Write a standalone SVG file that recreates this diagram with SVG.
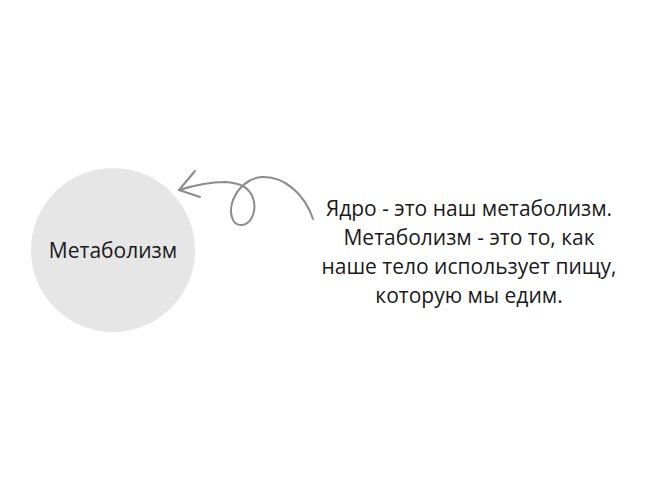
<svg xmlns="http://www.w3.org/2000/svg" width="657" height="500" viewBox="0 0 657 500">
<style>
.t{font-family:"Open Sans","Noto Sans","Liberation Sans",sans-serif;fill:#1a1a1a;text-anchor:middle;font-size:21px}
.c{fill:none;stroke:#8c8c8c;stroke-width:2;stroke-linecap:round;stroke-linejoin:round}
</style>
<rect width="657" height="500" fill="#ffffff"/>
<g id="node-metabolism">
<circle cx="113" cy="250" r="82" fill="#e6e6e6"/>
<text class="t" x="113" y="258">Метаболизм</text>
</g>
<g id="node-description">
<text class="t" x="469" y="216">Ядро - это наш метаболизм.</text>
<text class="t" x="469" y="245">Метаболизм - это то, как</text>
<text class="t" x="469" y="274">наше тело использует пищу,</text>
<text class="t" x="469" y="303">которую мы едим.</text>
</g>
<g id="connectors">
<path class="c" d="M313,219 C305,195 285,176 262,177 C248,178 238,188 233,200 C228,214 233,226 242,225 C252,224 257,210 253,198 C249,187 240,183 225,182 C210,182 192,186 179,190"/>
<path class="c" d="M195,171 L179,190 L200,197"/>
</g>
</svg>
